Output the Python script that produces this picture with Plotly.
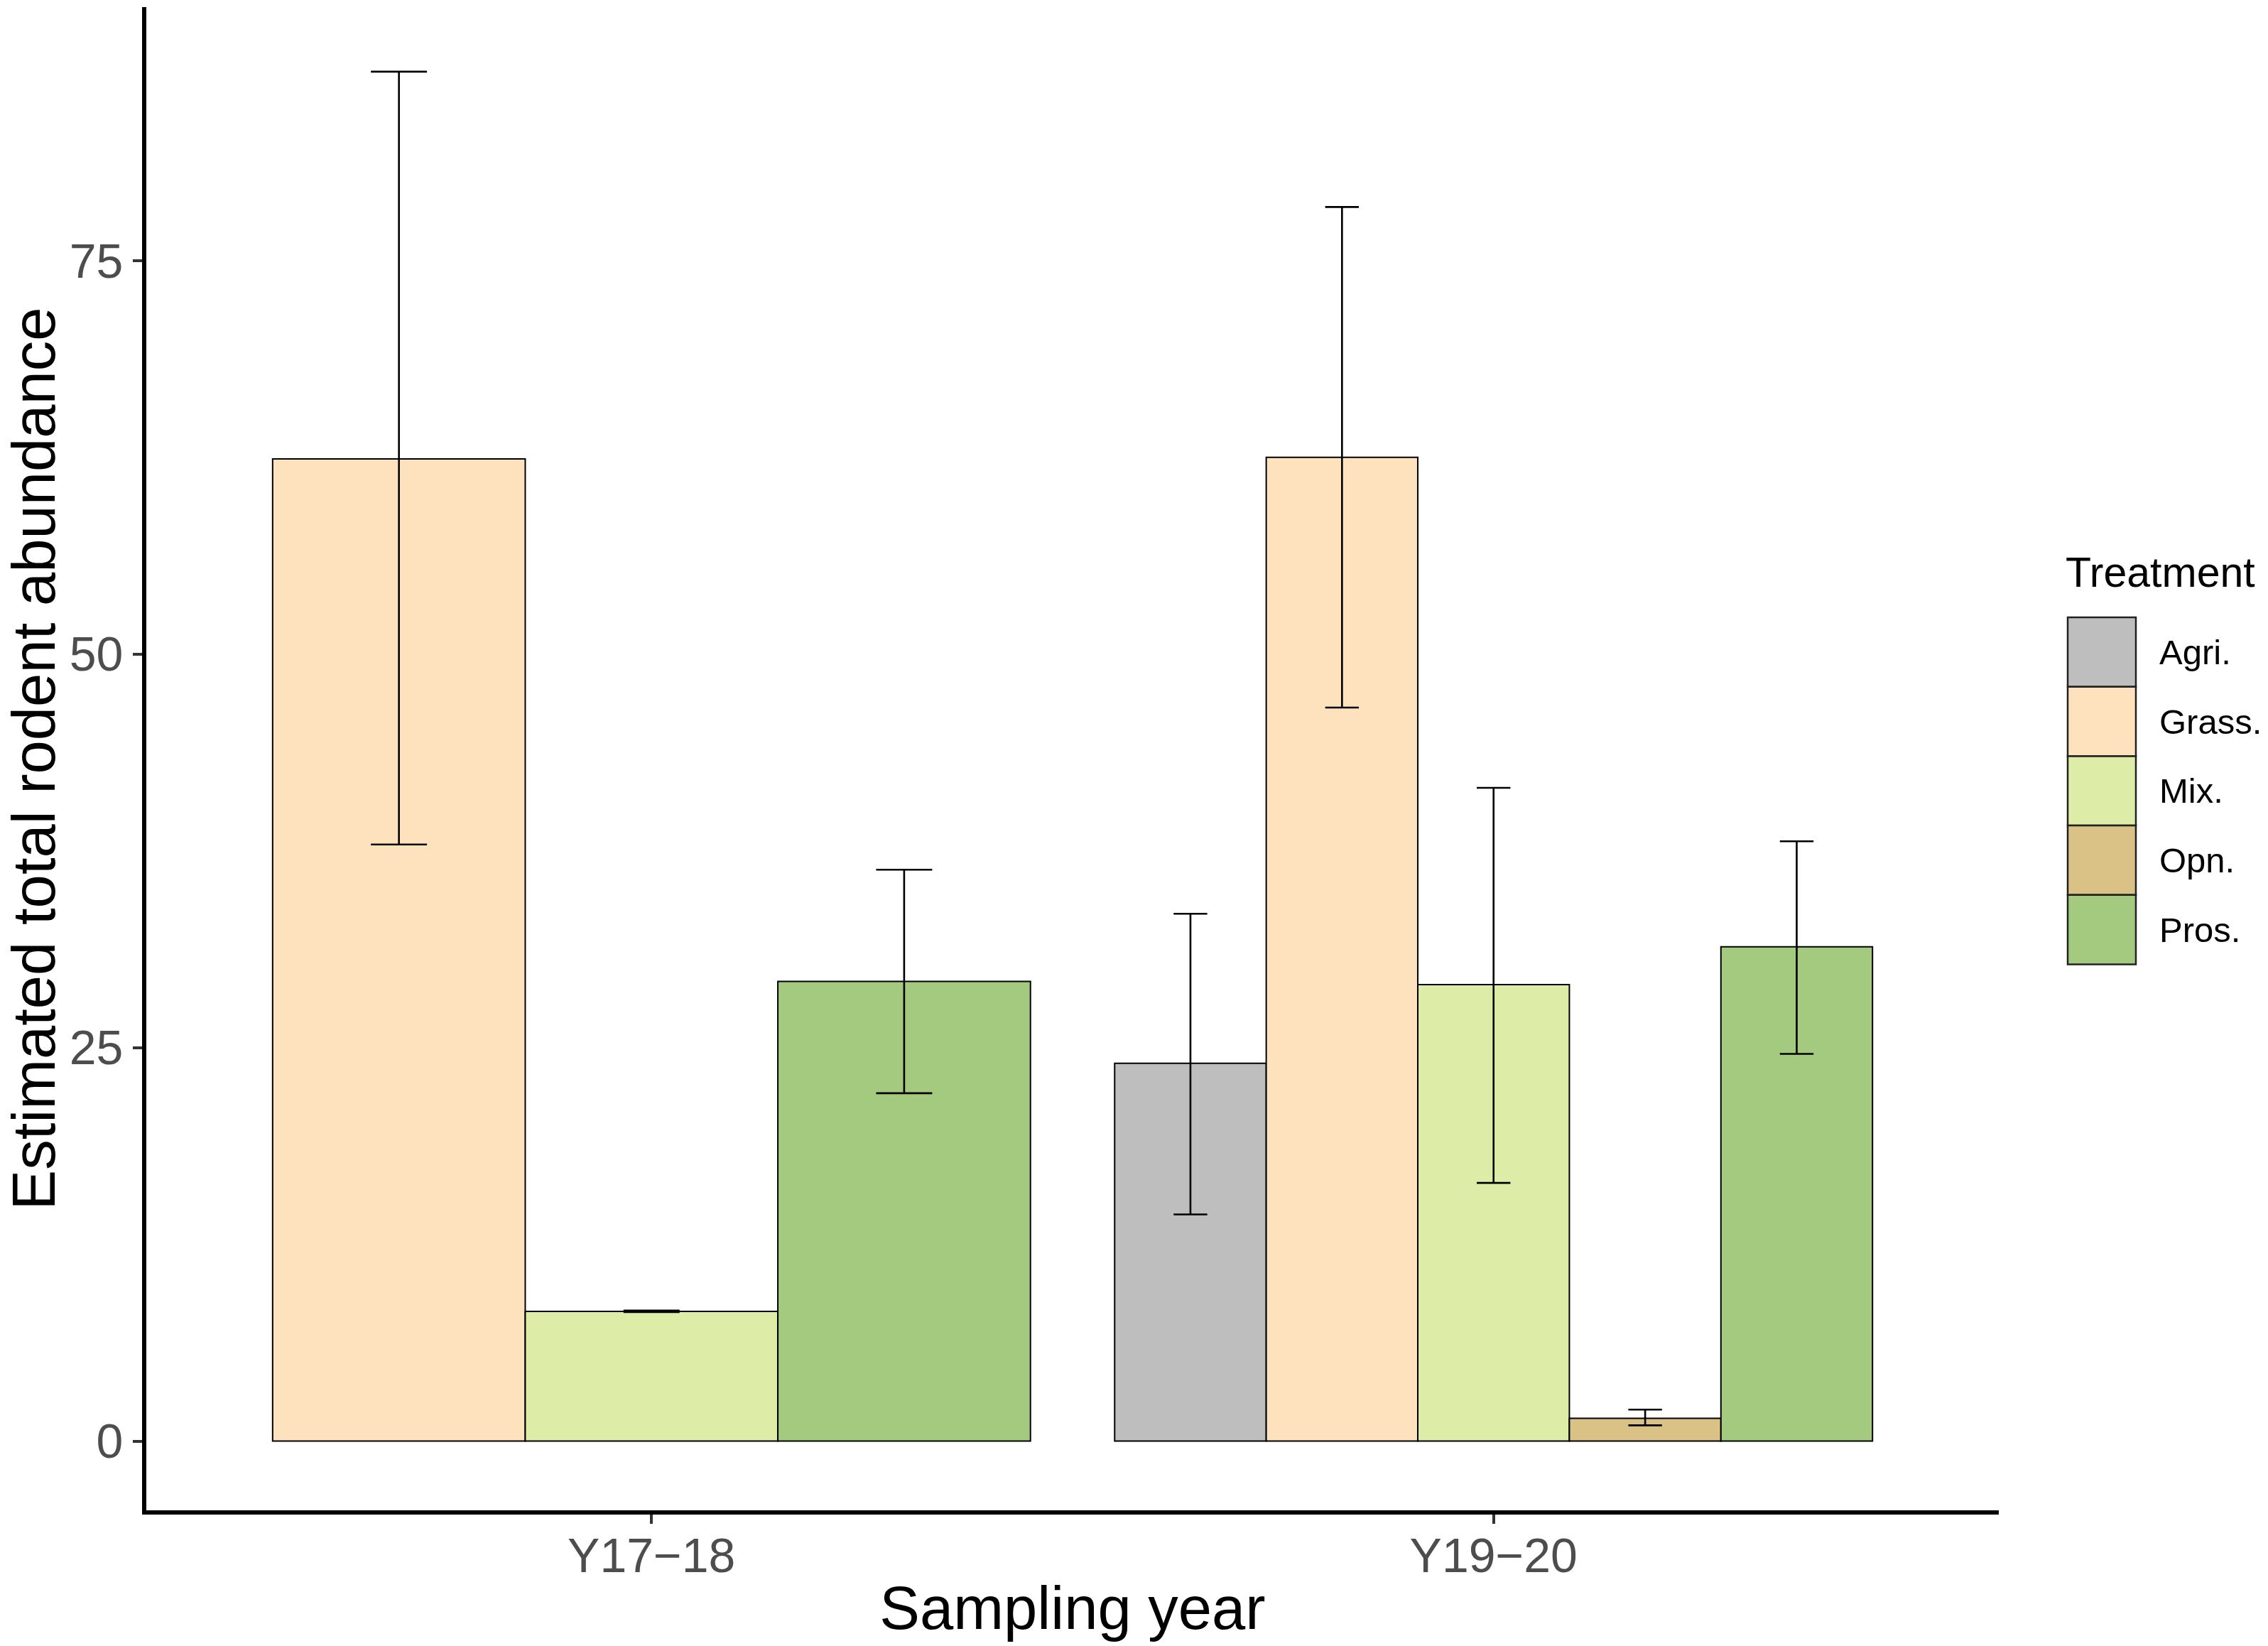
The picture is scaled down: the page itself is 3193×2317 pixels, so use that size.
import plotly.graph_objects as go

# data
years = ["Y17−18", "Y19−20"]
treatments = ["Agri.", "Grass.", "Mix.", "Opn.", "Pros."]
colors = ["#BEBEBE", "#FDE2BD", "#DDEDA8", "#DAC185", "#A4CA80"]

# None = treatment not sampled that year
mean_1718 = [None, 62.4, 8.24, None, 29.2]
upper_1718 = [None, 87.0, 8.29, None, 36.3]
lower_1718 = [None, 37.9, 8.19, None, 22.1]

mean_1920 = [24.0, 62.5, 29.0, 1.45, 31.4]
upper_1920 = [33.5, 78.4, 41.5, 2.0, 38.1]
lower_1920 = [14.4, 46.6, 16.4, 1.0, 24.6]

means = [mean_1718, mean_1920]
uppers = [upper_1718, upper_1920]
lowers = [lower_1718, lower_1920]

W, H = 3193, 2317
ml, mr, mt, mb = 206, 379, 10, 191
xrange_ = [0.4, 2.6]
yrange_ = [-4.4, 91.1]
px_per_x = (W - ml - mr) / (xrange_[1] - xrange_[0])

FONT = "Liberation Sans, Arial, sans-serif"

fig = go.Figure()

# dodge the bars that exist in each year over 0.9 of the category slot
for gi in range(len(years)):
    present = [i for i, m in enumerate(means[gi]) if m is not None]
    n = len(present)
    w = 0.9 / n
    for k, i in enumerate(present):
        m = means[gi][i]
        xpos = gi + 1 - 0.45 + w * (k + 0.5)
        fig.add_trace(go.Bar(
            x=[xpos], y=[m], width=[w],
            marker=dict(color=colors[i], line=dict(color="black", width=2)),
            error_y=dict(type="data", symmetric=False,
                         array=[uppers[gi][i] - m],
                         arrayminus=[m - lowers[gi][i]],
                         width=0.111 * w * px_per_x,
                         thickness=2.6, color="black"),
            name=treatments[i], showlegend=False,
        ))

# legend drawn by hand so the keys are big squares like ggplot's
key_x0 = (2911 - ml) / (W - ml - mr)
key_x1 = (3007 - ml) / (W - ml - mr)
lab_x = (3038 - ml) / (W - ml - mr)
plot_h = H - mt - mb
key_top = (H - mb - 869) / plot_h
key_h = 97.7 / plot_h

shapes = []
annotations = []
for i, t in enumerate(treatments):
    y1 = key_top - i * key_h
    y0 = y1 - key_h
    shapes.append(dict(type="rect", xref="paper", yref="paper",
                       x0=key_x0, x1=key_x1, y0=y0, y1=y1,
                       fillcolor=colors[i], line=dict(color="#222222", width=2.5)))
    annotations.append(dict(text=t, xref="paper", yref="paper",
                            x=lab_x, y=(y0 + y1) / 2, xanchor="left", yanchor="middle",
                            showarrow=False, font=dict(family=FONT, size=49, color="black")))

annotations.append(dict(text="Treatment", xref="paper", yref="paper",
                        x=key_x0 - 0.002, y=(H - mb - 806) / plot_h, xanchor="left", yanchor="middle",
                        showarrow=False, font=dict(family=FONT, size=59, color="black")))

fig.update_layout(
    width=W, height=H,
    margin=dict(l=ml, r=mr, t=mt, b=mb, pad=0),
    barmode="overlay",
    plot_bgcolor="white", paper_bgcolor="white",
    shapes=shapes, annotations=annotations,
    font=dict(family=FONT),
)

axis_style = dict(showline=True, linecolor="black", linewidth=6, mirror=False,
                  ticks="outside", ticklen=13, tickwidth=4, tickcolor="#333333",
                  showgrid=False, zeroline=False, automargin=False,
                  tickfont=dict(family=FONT, size=68, color="#4D4D4D"))

fig.update_xaxes(range=xrange_, tickvals=[1, 2], ticktext=years,
                 ticklabelstandoff=-14,
                 title=dict(text="Sampling year", font=dict(family=FONT, size=85, color="black"),
                            standoff=10),
                 **axis_style)
fig.update_yaxes(range=yrange_, tickvals=[0, 25, 50, 75],
                 title=dict(text="Estimated total rodent abundance",
                            font=dict(family=FONT, size=85, color="black"), standoff=25),
                 **axis_style)

# drop the browser's default body margin so the figure sits at 0,0
fig.write_html("out.html", config={"displayModeBar": False},
               post_script="document.body.style.margin='0';")
